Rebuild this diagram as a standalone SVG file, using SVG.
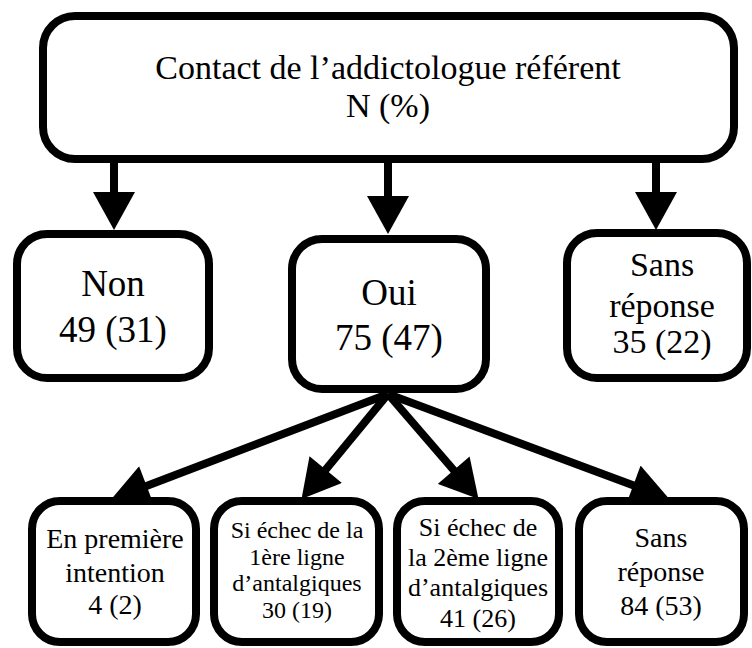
<svg xmlns="http://www.w3.org/2000/svg" width="752" height="648" viewBox="0 0 752 648">
<defs>
<style>
.box{fill:#fff;stroke:#000;stroke-width:8}
.ln{stroke:#000;stroke-width:8;fill:none}
text{font-family:'Liberation Serif','Times New Roman',serif;fill:#000;text-anchor:middle}
</style>
<marker id="ah" markerUnits="userSpaceOnUse" markerWidth="40" markerHeight="42" viewBox="0 0 38 42" refX="17" refY="21" orient="auto">
<path d="M0,0 L38,21 L0,42 z" fill="#000"/>
</marker>
</defs>
<rect width="752" height="648" fill="#fff"/>
<g id="connectors">
<line class="ln" x1="114" y1="159" x2="114" y2="209" marker-end="url(#ah)"/>
<line class="ln" x1="388" y1="159" x2="388" y2="213" marker-end="url(#ah)"/>
<line class="ln" x1="656" y1="159" x2="656" y2="209" marker-end="url(#ah)"/>
<line class="ln" x1="388" y1="394" x2="130.7" y2="492" marker-end="url(#ah)"/>
<line class="ln" x1="388" y1="394" x2="314.9" y2="482.7" marker-end="url(#ah)"/>
<line class="ln" x1="388" y1="394" x2="464.8" y2="483" marker-end="url(#ah)"/>
<line class="ln" x1="388" y1="394" x2="649.2" y2="491.2" marker-end="url(#ah)"/>
</g>
<g id="top">
<rect class="box" x="43" y="16" width="691" height="143" rx="32"/>
<text x="388" y="79" font-size="34">Contact de l’addictologue référent</text>
<text x="388" y="117" font-size="34">N (%)</text>
</g>
<g id="non">
<rect class="box" x="17" y="234" width="192" height="144" rx="30"/>
<text x="113" y="296" font-size="37">Non</text>
<text x="113" y="342" font-size="37">49 (31)</text>
</g>
<g id="oui">
<rect class="box" x="292" y="239" width="194" height="150" rx="30"/>
<text x="389" y="305" font-size="37">Oui</text>
<text x="389" y="350" font-size="37">75 (47)</text>
</g>
<g id="sans1">
<rect class="box" x="567" y="233" width="180" height="145" rx="30"/>
<text x="662" y="276" font-size="34">Sans</text>
<text x="662" y="317" font-size="34">réponse</text>
<text x="662" y="353" font-size="34">35 (22)</text>
</g>
<g id="premiere">
<rect class="box" x="32" y="501" width="164" height="141" rx="28"/>
<text x="115" y="548" font-size="28">En première</text>
<text x="115" y="582" font-size="28">intention</text>
<text x="115" y="614" font-size="28">4 (2)</text>
</g>
<g id="echec1">
<rect class="box" x="214" y="501" width="165" height="141" rx="28"/>
<text x="297" y="538" font-size="24">Si échec de la</text>
<text x="297" y="565" font-size="24">1ère ligne</text>
<text x="297" y="591" font-size="24">d’antalgiques</text>
<text x="297" y="618" font-size="24">30 (19)</text>
</g>
<g id="echec2">
<rect class="box" x="397" y="501" width="162" height="141" rx="28"/>
<text x="478" y="536" font-size="26">Si échec de</text>
<text x="478" y="566" font-size="26">la 2ème ligne</text>
<text x="478" y="596" font-size="26">d’antalgiques</text>
<text x="478" y="627" font-size="26">41 (26)</text>
</g>
<g id="sans2">
<rect class="box" x="579" y="501" width="165" height="141" rx="28"/>
<text x="661" y="547" font-size="28">Sans</text>
<text x="661" y="581" font-size="28">réponse</text>
<text x="661" y="615" font-size="28">84 (53)</text>
</g>
</svg>
